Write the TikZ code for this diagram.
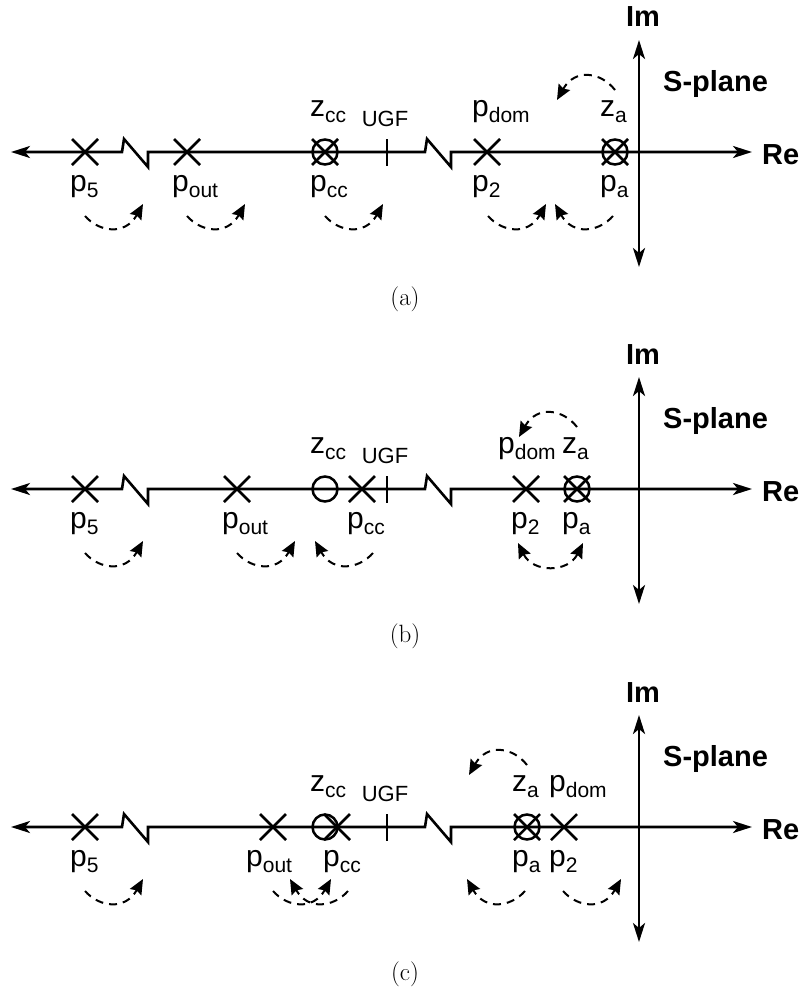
\documentclass[tikz,border=0pt]{standalone}
\usepackage{fontspec}
\newfontfamily\arial{Liberation Sans}
\usetikzlibrary{arrows.meta}
\newcommand\lbl[2]{#1\raisebox{-0.21em}{\fontsize{21}{21}\selectfont #2}}
\tikzset{
  axisline/.style={line width=2.6pt,
    {Stealth[length=19pt,width=12pt,inset=5pt]}-{Stealth[length=19pt,width=12pt,inset=5pt]}},
  pzline/.style={line width=2.5pt},
  dasharr/.style={line width=2pt, dash pattern=on 8pt off 6pt,
    -{Stealth[length=15pt,width=13pt,inset=2pt]}},
  dasharrb/.style={line width=2pt, dash pattern=on 8pt off 6pt,
    {Stealth[length=15pt,width=13pt,inset=2pt]}-{Stealth[length=15pt,width=13pt,inset=2pt]}},
  lab/.style={font=\arial\fontsize{30}{30}\selectfont, inner sep=0pt},
  ugflab/.style={font=\arial\fontsize{22}{22}\selectfont, inner sep=0pt},
  boldlab/.style={font=\arial\bfseries\fontsize{29}{29}\selectfont, inner sep=0pt},
  caplab/.style={font=\fontsize{25}{25}\selectfont, inner sep=0pt},
  xmark/.pic={\draw[pzline] (-13,-13) -- (13,13) (-13,13) -- (13,-13);},
  omark/.pic={\draw[pzline] (0,0) circle[radius=12.5pt];},
  xomark/.pic={\draw[pzline] (0,0) circle[radius=12.5pt];
               \draw[pzline] (-13,-13) -- (13,13) (-13,13) -- (13,-13);},
  arrR/.pic={\draw[dasharr] (0,64) .. controls (14,80) and (40,84) .. (58,52);},
  arrL/.pic={\draw[dasharr] (0,64) .. controls (-14,80) and (-40,84) .. (-58,52);},
  arrT/.pic={\draw[dasharr] (0,-62) .. controls (-14,-80) and (-40,-84) .. (-58,-52);},
}
\newcommand\commonpanel[1]{%
  \coordinate (L) at (11,0);
  \coordinate (R) at (752,0);
  \coordinate (T) at (639,-112);
  \coordinate (B) at (639,115);
  \draw[axisline] (L) -- (122,0) -- (124,-13) -- (148,15) -- (148,0)
        -- (425,0) -- (427,-13) -- (451,15) -- (451,0) -- (R);
  \draw[axisline] (B) -- (T);
  \node[boldlab, anchor=base] (im) at (643,-125) {Im};
  \node[boldlab, anchor=base west] (sp) at (663,-61) {S-plane};
  \node[boldlab, anchor=base west] (re) at (762,12) {Re};
  \draw[pzline] (387,-13) -- (387,14);
  \node[ugflab, anchor=base] (ugf) at (385,-26) {UGF};
  \pic at (85,0) {xmark};
  \node[lab, anchor=base west] (p5) at (70,39) {\lbl{p}{5}};
  \pic at (85,0) {arrR};
  \node[caplab] (cap) at (405,147) {(#1)};
}
\begin{document}
\begin{tikzpicture}[x=1pt,y=-1pt]
\useasboundingbox (0,0) rectangle (805,990);
% ---------- (a)
\begin{scope}[shift={(0,152)}, name prefix=a-]
  \commonpanel{a}
  \pic at (187,0) {xmark};
  \pic at (325,0) {xomark};
  \pic at (487,0) {xmark};
  \pic at (615,0) {xomark};
  \node[lab, anchor=base west] (pout) at (172,39) {\lbl{p}{out}};
  \node[lab, anchor=base west] (pcc) at (310,39) {\lbl{p}{cc}};
  \node[lab, anchor=base west] (zcc) at (310,-36) {\lbl{z}{cc}};
  \node[lab, anchor=base west] (pdom) at (472,-36) {\lbl{p}{dom}};
  \node[lab, anchor=base west] (p2) at (472,39) {\lbl{p}{2}};
  \node[lab, anchor=base west] (za) at (600,-36) {\lbl{z}{a}};
  \node[lab, anchor=base west] (pa) at (600,39) {\lbl{p}{a}};
  \pic at (187,0) {arrR};
  \pic at (325,0) {arrR};
  \pic at (488,0) {arrR};
  \pic at (613,0) {arrL};
  \pic at (615,0) {arrT};
\end{scope}
% ---------- (b)
\begin{scope}[shift={(0,489)}, name prefix=b-]
  \commonpanel{b}
  \pic at (237,0) {xmark};
  \pic at (325,0) {omark};
  \pic at (362,0) {xmark};
  \pic at (526,0) {xmark};
  \pic at (577,0) {xomark};
  \node[lab, anchor=base west] (pout) at (222,39) {\lbl{p}{out}};
  \node[lab, anchor=base west] (zcc) at (310,-36) {\lbl{z}{cc}};
  \node[lab, anchor=base west] (pcc) at (347,39) {\lbl{p}{cc}};
  \node[lab, anchor=base west] (pdom) at (498,-36) {\lbl{p}{dom}};
  \node[lab, anchor=base west] (za) at (562,-36) {\lbl{z}{a}};
  \node[lab, anchor=base west] (p2) at (511,39) {\lbl{p}{2}};
  \node[lab, anchor=base west] (pa) at (562,39) {\lbl{p}{a}};
  \pic at (237,0) {arrR};
  \pic at (373,0) {arrL};
  \coordinate (dl) at (518,54);
  \coordinate (dr) at (583,54);
  \draw[dasharrb] (dl) .. controls (533,84) and (568,84) .. (dr);
  \pic at (577,0) {arrT};
\end{scope}
% ---------- (c)
\begin{scope}[shift={(0,827)}, name prefix=c-]
  \commonpanel{c}
  \pic at (273,0) {xmark};
  \pic at (325,0) {omark};
  \pic at (337,0) {xmark};
  \pic at (527,0) {xomark};
  \pic at (564,0) {xmark};
  \node[lab, anchor=base west] (pout) at (246,39) {\lbl{p}{out}};
  \node[lab, anchor=base west] (zcc) at (310,-36) {\lbl{z}{cc}};
  \node[lab, anchor=base west] (pcc) at (323,39) {\lbl{p}{cc}};
  \node[lab, anchor=base west] (za) at (512,-36) {\lbl{z}{a}};
  \node[lab, anchor=base west] (pdom) at (549,-36) {\lbl{p}{dom}};
  \node[lab, anchor=base west] (pa) at (512,39) {\lbl{p}{a}};
  \node[lab, anchor=base west] (p2) at (549,39) {\lbl{p}{2}};
  \pic at (273,0) {arrR};
  \pic at (348,0) {arrL};
  \pic at (563,0) {arrR};
  \pic at (525,0) {arrL};
  \pic at (527,0) {arrT};
\end{scope}
\end{tikzpicture}
\end{document}
